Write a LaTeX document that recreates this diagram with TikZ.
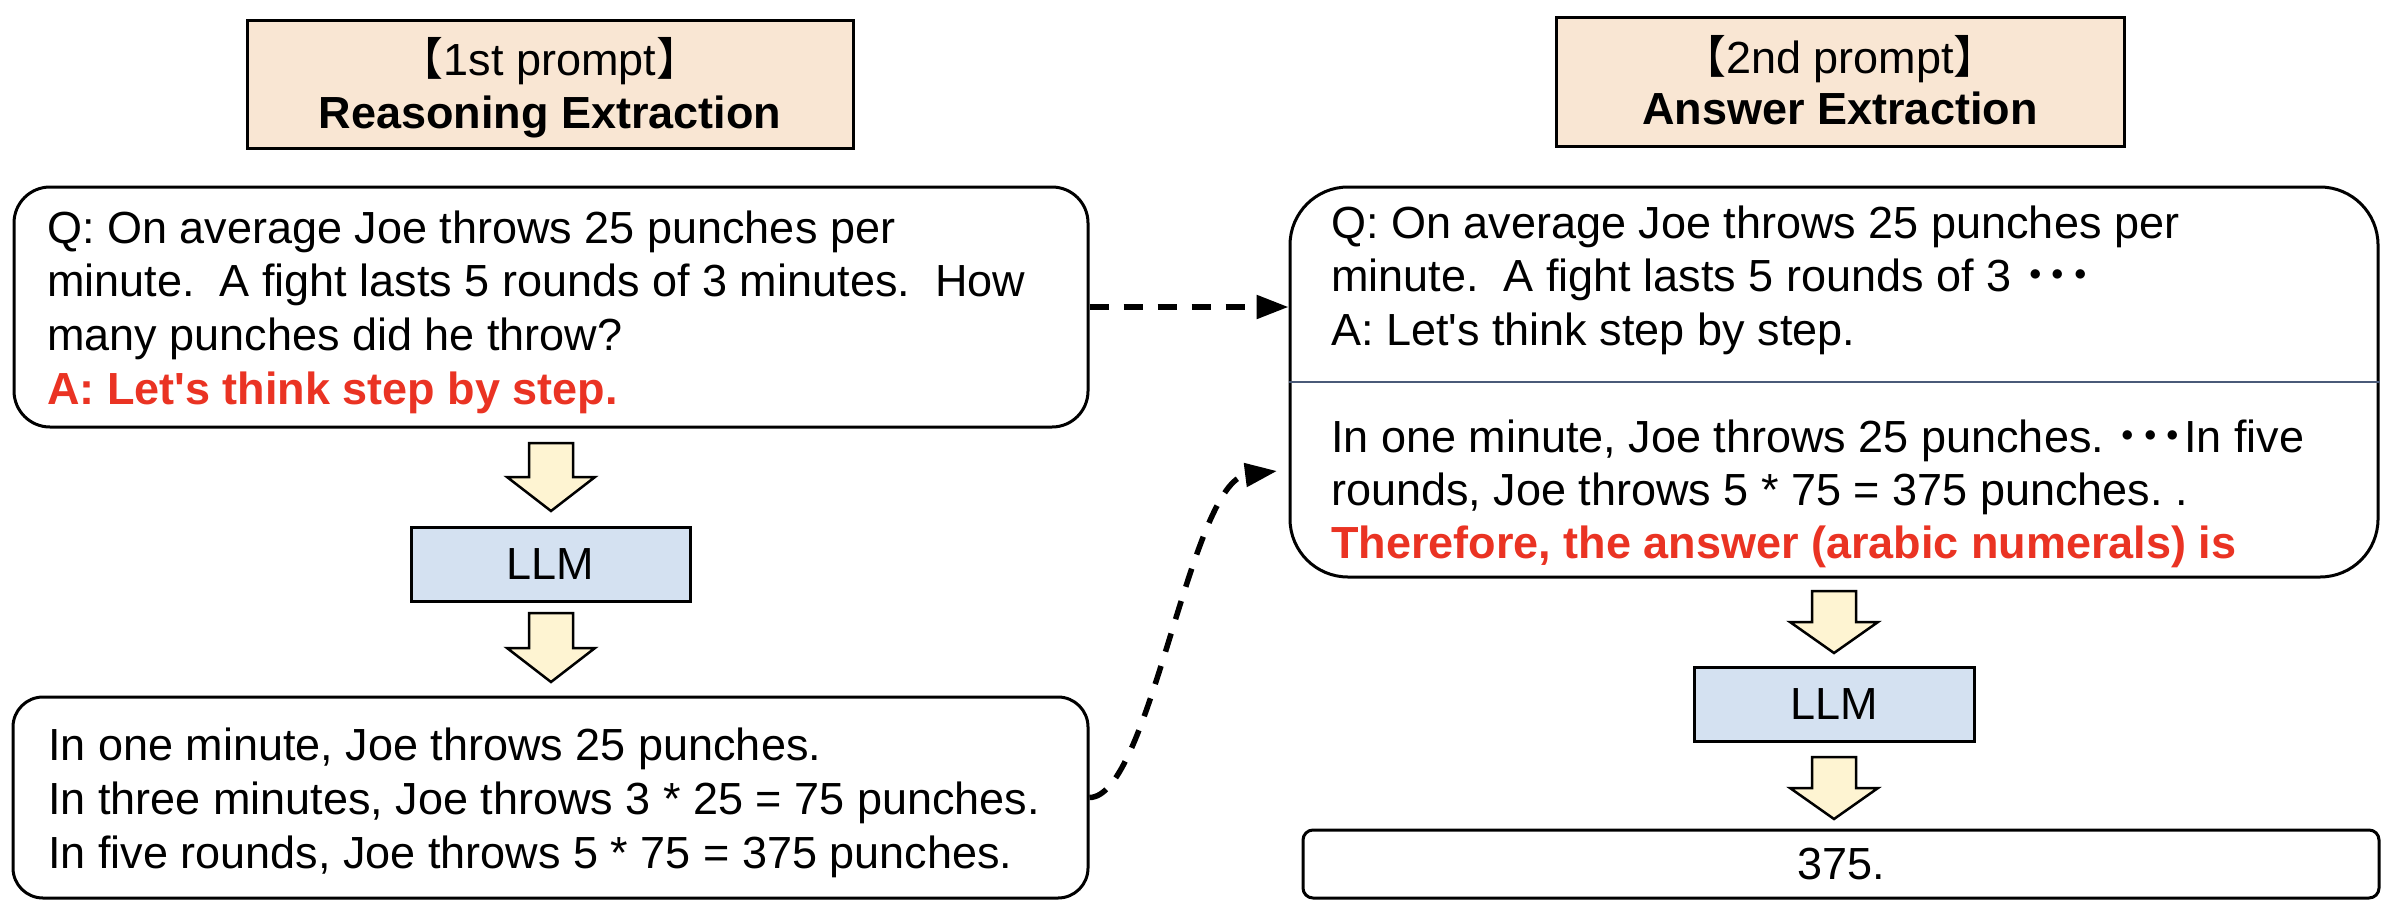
\documentclass[tikz,border=0pt]{standalone}
\usepackage{fontspec}
\newfontfamily\arial{Liberation Sans}
\newfontfamily\cjk{Noto Sans CJK SC}
\usetikzlibrary{arrows.meta}
\definecolor{peach}{RGB}{249,230,211}
\definecolor{llmblue}{RGB}{212,225,241}
\definecolor{arrowyellow}{RGB}{254,244,210}
\definecolor{redtxt}{RGB}{234,51,35}
\definecolor{divider}{RGB}{74,90,120}
\newcommand\lbr{{\cjk\kern-0.5em 【}}
\newcommand\rbr{{\cjk 】\kern-0.5em}}
\newcommand\tridots{{\cjk\bfseries ･･･}}
\newcommand\fatdown[4]{%
  \path[fatarrow] (#1-22,#2) -- (#1+22,#2) -- (#1+22,#3) -- (#1+44,#3) -- (#1,#4) -- (#1-44,#3) -- (#1-22,#3) -- cycle;}
\tikzset{
  box/.style={draw=black, line width=3pt, inner sep=0pt, rectangle},
  titlebox/.style={box, fill=peach},
  rbox/.style={box, fill=white},
  llmbox/.style={box, fill=llmblue, font=\arial\fontsize{45}{54}\selectfont},
  txt/.style={inner sep=0pt, align=left, anchor=north west, font=\arial\frenchspacing\fontsize{45}{53.7}\selectfont},
  ttl/.style={inner sep=0pt, anchor=base, font=\arial\frenchspacing\fontsize{45}{54}\selectfont},
  fatarrow/.style={draw=black, line width=2.5pt, fill=arrowyellow, line join=miter},
  dashconn/.style={draw=black, line width=5.5pt, dash pattern=on 19pt off 15pt, -{Triangle[length=32pt,width=23pt]}},
}
\begin{document}
\begin{tikzpicture}[x=1pt, y=-1pt]
\useasboundingbox (0,0) rectangle (2390,918);
% title boxes
\node[titlebox, minimum width=606pt, minimum height=128pt] (t1) at (550,84) {};
\node[titlebox, minimum width=568pt, minimum height=129pt] (t2) at (1840,81.5) {};
\node[ttl] (t1a) at (550,75) {\lbr 1st prompt\rbr};
\node[ttl] (t1b) at (550,128) {\bfseries Reasoning Extraction};
\node[ttl] (t2a) at (1840,73) {\lbr 2nd prompt\rbr};
\node[ttl] (t2b) at (1840,124) {\bfseries Answer Extraction};
% left column
\node[rbox, rounded corners=36pt, minimum width=1074pt, minimum height=240pt] (q1) at (551,307) {};
\node[llmbox, minimum width=279pt, minimum height=74pt] (l1) at (550.5,564) {LLM};
\node[rbox, rounded corners=30pt, minimum width=1075pt, minimum height=201pt] (a1) at (550.5,797.5) {};
\node[txt] (q1t) at (47,203) {\rule{0pt}{40pt}Q: On average Joe throws 25 punches per\\
minute.\ \ A fight lasts 5 rounds of 3 minutes.\ \ How\\
many punches did he throw?\\
\textcolor{redtxt}{\bfseries A: Let's think step by step.}};
\node[txt, font=\arial\frenchspacing\fontsize{45}{54}\selectfont] (a1t) at (48,720) {\rule{0pt}{40pt}In one minute, Joe throws 25 punches.\\
In three minutes, Joe throws 3 * 25 = 75 punches.\\
In five rounds, Joe throws 5 * 75 = 375 punches.};
\fatdown{551}{443}{477}{511}
\fatdown{551}{613}{648}{682}
% right column
\node[rbox, rounded corners=58pt, minimum width=1088pt, minimum height=390pt] (q2) at (1834,382) {};
\draw[divider, line width=2.5pt] (q2.west |- 0,382) -- (q2.east |- 0,382);
\node[txt, font=\arial\frenchspacing\fontsize{45}{53.5}\selectfont] (q2t) at (1331,198) {\rule{0pt}{40pt}Q: On average Joe throws 25 punches per\\
minute.\ \ A fight lasts 5 rounds of 3 \tridots\\
A: Let's think step by step.};
\node[txt, font=\arial\frenchspacing\fontsize{45}{53}\selectfont] (q2r) at (1331,412) {\rule{0pt}{40pt}In one minute, Joe throws 25 punches. \tridots In five\\
rounds, Joe throws 5 * 75 = 375 punches. .\\
\textcolor{redtxt}{\bfseries Therefore, the answer (arabic numerals) is}};
\node[llmbox, minimum width=280pt, minimum height=74pt] (l2) at (1834,704) {LLM};
\node[rbox, rounded corners=10pt, minimum width=1076pt, minimum height=68pt, font=\arial\fontsize{45}{54}\selectfont] (fin) at (1841,864) {375.};
\fatdown{1834}{591}{622}{653}
\fatdown{1834}{757}{788}{819}
% connectors
\coordinate (c2tip) at (1277,471);
\draw[dashconn] (q1.east) -- (q2.west |- q1.east);
\draw[dashconn] (a1.east) .. controls (1150,797) and (1190,482) .. (c2tip);
\end{tikzpicture}
\end{document}
